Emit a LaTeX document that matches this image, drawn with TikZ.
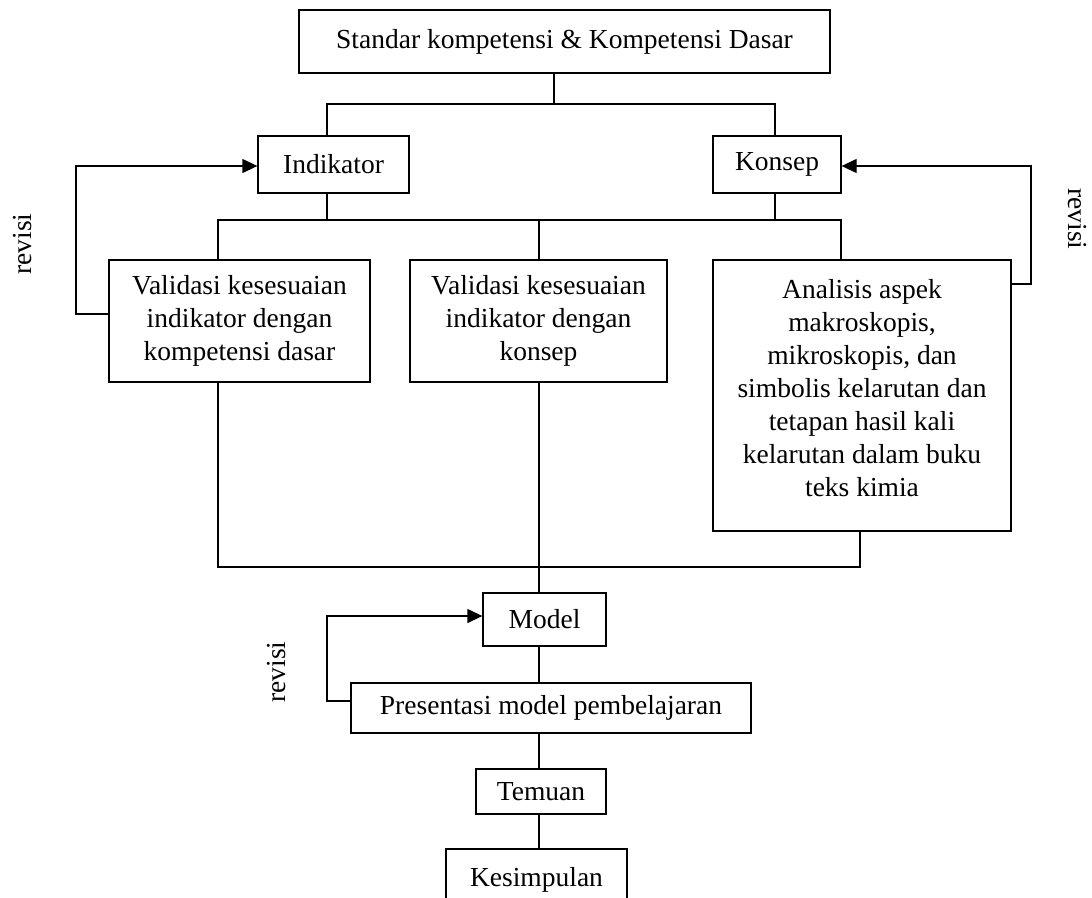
\documentclass[tikz,border=0pt]{standalone}
\usepackage{fontspec}
\setmainfont{Liberation Serif}
\usetikzlibrary{arrows.meta,calc}
\tikzset{
    box/.style={draw, line width=1.3pt, inner sep=0pt, align=center,
        font=\fontsize{27.5}{33}\selectfont},
    link/.style={line width=1.3pt},
    back/.style={link, -{Triangle[length=15pt,width=14pt]}},
    revlabel/.style={font=\fontsize{27.5}{33}\selectfont},
}

\begin{document}
\begin{tikzpicture}[x=1pt, y=-1pt]
    \useasboundingbox (0,0) rectangle (1092,897);
    \clip (0,0) rectangle (1092,897);

    \node[box, minimum width=531, minimum height=63] (sk) at (564.5,41.5) {Standar kompetensi \& Kompetensi Dasar};
    \node[box, minimum width=151, minimum height=57] (ind) at (333.5,164.5) {Indikator};
    \node[box, minimum width=128, minimum height=57] (kon) at (777,164.5) {Konsep};
    \node[box, minimum width=261, minimum height=122] (val1) at (239.5,321) {Validasi kesesuaian\\indikator dengan\\kompetensi dasar};
    \node[box, minimum width=257, minimum height=122] (val2) at (538.5,321) {Validasi kesesuaian\\indikator dengan\\konsep};
    \node[box, minimum width=298, minimum height=271] (anl) at (862,395.5) {Analisis aspek\\makroskopis,\\mikroskopis, dan\\simbolis kelarutan dan\\tetapan hasil kali\\kelarutan dalam buku\\teks kimia\\[-17pt]};
    \node[box, minimum width=123, minimum height=53] (model) at (544.5,619.5) {Model};
    \node[box, minimum width=400, minimum height=50] (pres) at (551,708) {Presentasi model pembelajaran};
    \node[box, minimum width=130, minimum height=45] (tem) at (541,791.5) {Temuan};
    \node[box, minimum width=181, minimum height=62] (kes) at (536.5,880) {Kesimpulan};

    % rails
    \coordinate (r1) at (554,104);
    \coordinate (r2) at (539,220);
    \coordinate (r3) at (539,567);

    \draw[link] (sk.south -| r1) -- (r1);
    \draw[link] (ind.north -| 327,0) |- (r1) -| (kon.north -| 775,0);
    \draw[link] (ind.south -| 327,0) -- (327,220);
    \draw[link] (kon.south -| 775,0) -- (775,220);
    \draw[link] (val1.north -| 218,0) |- (r2) -| (anl.north -| 841,0);
    \draw[link] (r2) -- (val2.north -| r2);
    \draw[link] (val1.south -| 218,0) |- (r3) -| (anl.south -| 860,0);
    \draw[link] (val2.south -| r3) -- (model.north -| r3);
    \draw[link] (model.south -| r3) -- (pres.north -| r3);
    \draw[link] (pres.south -| r3) -- (tem.north -| r3);
    \draw[link] (tem.south -| r3) -- (kes.north -| r3);

    % revisi loops
    \draw[back] (val1.west |- 0,314) -| (76,166) -- (ind.west |- 0,166);
    \draw[back] (anl.east |- 0,284) -| (1031,166) -- (kon.east |- 0,166);
    \draw[back] (pres.west |- 0,701) -| (327,616) -- (model.west |- 0,616);

    \node[revlabel, rotate=90] (rev1) at (23,244) {revisi};
    \node[revlabel, rotate=-90] (rev2) at (1077,219) {revisi};
    \node[revlabel, rotate=90] (rev3) at (277,672) {revisi};
\end{tikzpicture}
\end{document}
